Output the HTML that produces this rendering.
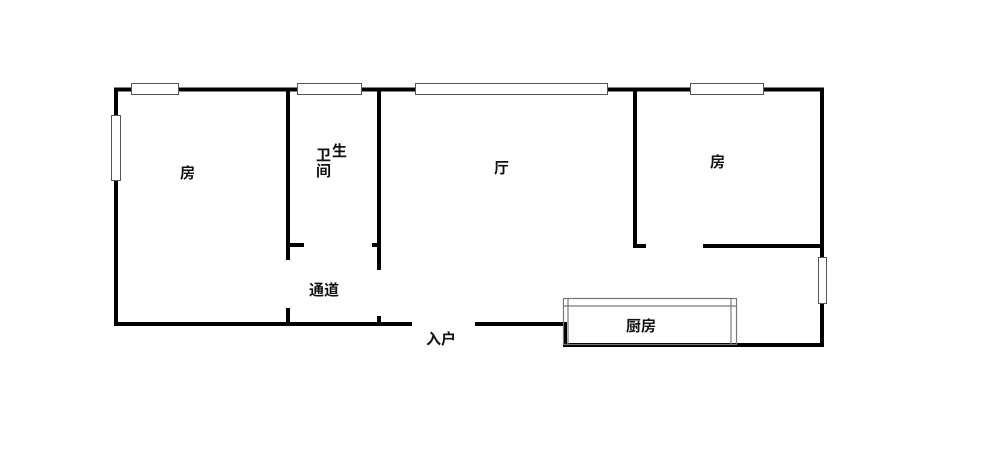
<!DOCTYPE html>
<html><head><meta charset="utf-8"><style>
html,body{margin:0;padding:0;background:#fff;width:1000px;height:470px;overflow:hidden}
svg text{font-family:"Liberation Sans","Noto Sans CJK SC",sans-serif;font-size:15px;fill:#111;font-weight:bold}
</style></head><body>
<svg width="1000" height="470" viewBox="0 0 1000 470" xmlns="http://www.w3.org/2000/svg">
<g stroke="#000" stroke-width="4" fill="none" stroke-linecap="square">
<line x1="116" y1="89.5" x2="822" y2="89.5"/>
<line x1="116" y1="89.5" x2="116" y2="324"/>
<line x1="116" y1="324" x2="410" y2="324"/>
<line x1="477" y1="324" x2="564" y2="324"/>
<line x1="565" y1="324" x2="565" y2="344"/>
<line x1="565" y1="345" x2="822" y2="345"/>
<line x1="822" y1="89.5" x2="822" y2="345"/>
<line x1="288" y1="90" x2="288" y2="258"/>
<line x1="288" y1="245" x2="302" y2="245"/>
<line x1="288" y1="310" x2="288" y2="323"/>
<line x1="379" y1="90" x2="379" y2="268"/>
<line x1="374" y1="245" x2="379" y2="245"/>
<line x1="379" y1="318" x2="379" y2="323"/>
<line x1="635" y1="90" x2="635" y2="246"/>
<line x1="635" y1="246" x2="644" y2="246"/>
<line x1="705" y1="246" x2="822" y2="246"/>
</g>
<g fill="#fff" stroke="#555" stroke-width="1">
<rect x="131.5" y="83.5" width="47" height="11"/>
<rect x="297.5" y="83.5" width="64" height="11"/>
<rect x="415.5" y="83.5" width="192" height="11"/>
<rect x="690.5" y="83.5" width="73" height="11"/>
<rect x="111.5" y="115.5" width="9" height="65"/>
<rect x="818.5" y="257.5" width="8" height="46"/>
</g>
<g fill="none" stroke="#777" stroke-width="1.2">
<rect x="563.5" y="298.5" width="173" height="46"/>
<line x1="563" y1="306" x2="737" y2="306"/>
<line x1="568" y1="298" x2="568" y2="345"/>
<line x1="731" y1="298" x2="731" y2="345"/>
</g>
<text x="180" y="178">房</text>
<text x="316" y="160">卫</text>
<text x="332" y="156">生</text>
<text x="316" y="176">间</text>
<text x="494" y="173">厅</text>
<text x="710" y="167">房</text>
<text x="309" y="295">通道</text>
<text x="426" y="344">入户</text>
<text x="626" y="331">厨房</text>
</svg>
</body></html>
